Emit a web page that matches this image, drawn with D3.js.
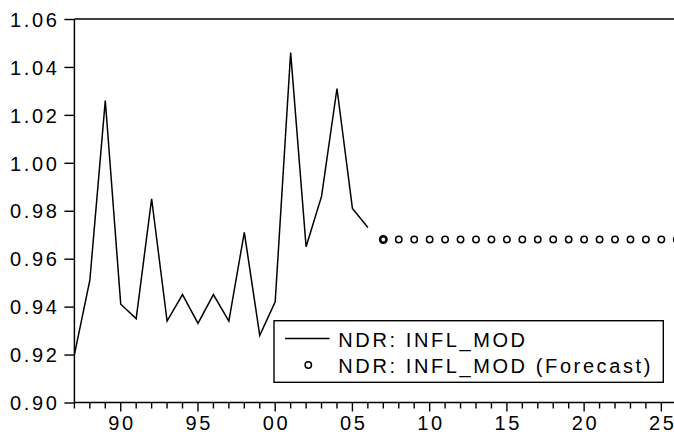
<!DOCTYPE html>
<html>
<head>
<meta charset="utf-8">
<script src="https://cdn.jsdelivr.net/npm/d3@7"></script>
<style>
  html, body { margin: 0; padding: 0; background: #fff; }
  svg { display: block; }
  text { font-family: "Liberation Sans", Arial, Helvetica, sans-serif; fill: #000; }
</style>
</head>
<body>
<svg id="chart" width="674" height="434"></svg>
<script>
// ---- data ----
const years = [1987,1988,1989,1990,1991,1992,1993,1994,1995,1996,1997,1998,1999,2000,2001,2002,2003,2004,2005,2006];
const inflMod = [0.920,0.951,1.026,0.941,0.935,0.985,0.934,0.945,0.933,0.945,0.934,0.971,0.928,0.942,1.046,0.965,0.986,1.031,0.981,0.973];
const forecastYears = [2007,2008,2009,2010,2011,2012,2013,2014,2015,2016,2017,2018,2019,2020,2021,2022,2023,2024,2025,2026];
const forecastValues = [0.968,0.968,0.968,0.968,0.968,0.968,0.968,0.968,0.968,0.968,0.968,0.968,0.968,0.968,0.968,0.968,0.968,0.968,0.968,0.968];
const yTicks = [0.90,0.92,0.94,0.96,0.98,1.00,1.02,1.04,1.06];
const xMajorTicks = [1990,1995,2000,2005,2010,2015,2020,2025];
const xTickLabels = ["90","95","00","05","10","15","20","25"];
const legendLabels = ["NDR: INFL_MOD","NDR: INFL_MOD (Forecast)"];

(function () {
// ---- layout ----
const svg = d3.select("#chart");
const pL = 74.4, pT = 19, pB = 402.5, pR = 674;
const x = d3.scaleLinear().domain([1987, 2026]).range([pL, pL + 39 * 15.446]);
const y = d3.scaleLinear().domain([0.90, 1.06]).range([pB, pT]);
const fontSize = 20, ls = 2.6;

// y axis
const yAxis = d3.axisLeft(y).tickValues(yTicks).tickFormat(d3.format(".2f")).tickSize(10).tickPadding(5);
const gy = svg.append("g").attr("transform", `translate(${pL},0)`).call(yAxis);
gy.select(".domain").remove();
gy.selectAll(".tick line").attr("stroke", "#000").attr("stroke-width", 1.4);
gy.selectAll(".tick text").attr("font-size", fontSize).attr("letter-spacing", ls)
  .attr("font-family", "Liberation Sans, Arial, sans-serif").attr("dy", "0.36em");

// x axis: minor + major ticks
const minorYears = d3.range(1987, 2027);
const gx = svg.append("g").attr("transform", `translate(0,${pB})`);
gx.selectAll("line").data(minorYears).join("line")
  .attr("x1", d => x(d)).attr("x2", d => x(d))
  .attr("y1", 0).attr("y2", d => xMajorTicks.includes(d) ? 9 : 6)
  .attr("stroke", "#000").attr("stroke-width", 1.4);
gx.selectAll("text").data(xMajorTicks).join("text")
  .attr("x", d => x(d) + ls / 2).attr("y", 27.5)
  .attr("text-anchor", "middle").attr("font-size", fontSize).attr("letter-spacing", ls)
  .text((d, i) => xTickLabels[i]);

// frame lines (left, top, bottom)
svg.append("line").attr("x1", pL).attr("x2", pL).attr("y1", pT).attr("y2", pB)
  .attr("stroke", "#000").attr("stroke-width", 1.5);
svg.append("line").attr("x1", pL).attr("x2", pR).attr("y1", pT).attr("y2", pT)
  .attr("stroke", "#000").attr("stroke-width", 1.5);
svg.append("line").attr("x1", pL).attr("x2", pR).attr("y1", pB).attr("y2", pB)
  .attr("stroke", "#000").attr("stroke-width", 1.5);

// actual line
const line = d3.line().x((d, i) => x(years[i])).y(d => y(d));
svg.append("path").datum(inflMod).attr("d", line)
  .attr("fill", "none").attr("stroke", "#000").attr("stroke-width", 1.5)
  .attr("stroke-linejoin", "miter");

// forecast circles
svg.append("g").selectAll("circle").data(forecastValues).join("circle")
  .attr("cx", (d, i) => x(forecastYears[i])).attr("cy", d => y(d))
  .attr("r", 3.2).attr("fill", "#fff").attr("stroke", "#000")
  .attr("stroke-width", (d, i) => i === 0 ? 2.6 : 1.5);

// legend
const lg = svg.append("g");
lg.append("rect").attr("x", 274).attr("y", 320.7).attr("width", 389.3).attr("height", 61.6)
  .attr("fill", "#fff").attr("stroke", "#000").attr("stroke-width", 1.4);
lg.append("line").attr("x1", 285).attr("x2", 329.5).attr("y1", 338.5).attr("y2", 338.5)
  .attr("stroke", "#000").attr("stroke-width", 1.5);
lg.append("circle").attr("cx", 308.3).attr("cy", 365).attr("r", 3.2)
  .attr("fill", "#fff").attr("stroke", "#000").attr("stroke-width", 1.5);
lg.selectAll("text").data(legendLabels).join("text")
  .attr("x", 338.3).attr("y", (d, i) => i === 0 ? 346.5 : 373)
  .attr("font-size", fontSize).attr("letter-spacing", 2.6)
  .text(d => d);
})();
</script>
</body>
</html>
